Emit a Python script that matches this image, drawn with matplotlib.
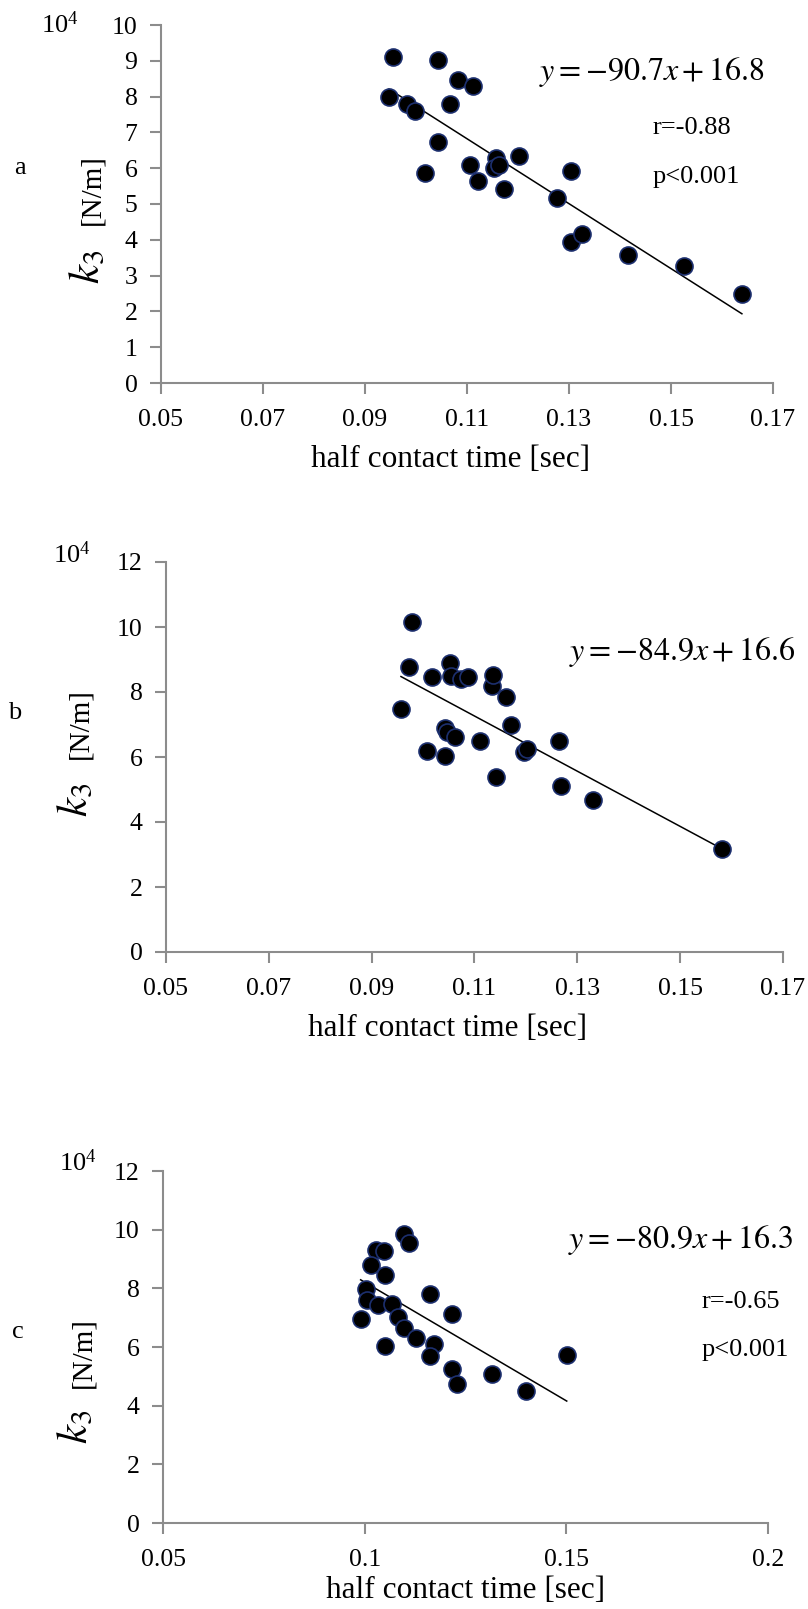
import numpy as np
import matplotlib
matplotlib.use('Agg')
import matplotlib.pyplot as plt

plt.rcParams['font.family'] = ['Liberation Serif', 'DejaVu Serif']
plt.rcParams['mathtext.fontset'] = 'stix'

# panel a
xa = [0.0955, 0.1043, 0.1082, 0.1112, 0.0947, 0.0983, 0.0998, 0.1067, 0.1043, 0.1018,
      0.1106, 0.1122, 0.1157, 0.1153, 0.1163, 0.1173, 0.1202, 0.1276, 0.1304, 0.1304,
      0.1326, 0.1415, 0.1525, 0.1639]
ya = [9.10, 9.02, 8.45, 8.30, 8.00, 7.80, 7.61, 7.80, 6.74, 5.86,
      6.09, 5.65, 6.28, 6.00, 6.10, 5.42, 6.35, 5.18, 5.91, 3.95,
      4.17, 3.58, 3.28, 2.48]
# panel b
xb = [0.0978, 0.0972, 0.0957, 0.1017, 0.1053, 0.1055, 0.1073, 0.1088, 0.1135, 0.1136,
      0.1162, 0.1171, 0.1043, 0.1047, 0.1063, 0.1111, 0.1007, 0.1043, 0.1196, 0.1202,
      0.1141, 0.1264, 0.1269, 0.1330, 0.1582]
yb = [10.16, 8.78, 7.48, 8.45, 8.88, 8.50, 8.40, 8.45, 8.19, 8.53,
      7.84, 6.97, 6.90, 6.78, 6.63, 6.48, 6.20, 6.02, 6.15, 6.26,
      5.39, 6.48, 5.10, 4.69, 3.17]
# panel c
xc = [0.1098, 0.1109, 0.1028, 0.1047, 0.1015, 0.1051, 0.1003, 0.1006, 0.1032, 0.1067,
      0.1162, 0.0990, 0.1083, 0.1098, 0.1217, 0.1128, 0.1051, 0.1171, 0.1162, 0.1217,
      0.1230, 0.1316, 0.1399, 0.1501]
yc = [9.84, 9.55, 9.31, 9.27, 8.79, 8.46, 7.98, 7.59, 7.42, 7.48,
      7.82, 6.94, 7.03, 6.66, 7.11, 6.30, 6.02, 6.10, 5.69, 5.24,
      4.73, 5.07, 4.51, 5.74]

slopes = [-90.7, -84.9, -80.9]
icepts = [16.8, 16.6, 16.3]
letters = ['a', 'b', 'c']
stats = [['r=-0.88', 'p<0.001'], None, ['r=-0.65', 'p<0.001']]

xticks_ab = [0.05, 0.07, 0.09, 0.11, 0.13, 0.15, 0.17]
xticks_c = [0.05, 0.1, 0.15, 0.2]
xlabels_ab = ['0.05', '0.07', '0.09', '0.11', '0.13', '0.15', '0.17']
xlabels_c = ['0.05', '0.1', '0.15', '0.2']

W, H = 808, 1609
fig = plt.figure(figsize=(W / 100, H / 100), dpi=100)

def px_axes(l, r, t, b):
    return fig.add_axes([l / W, 1 - b / H, (r - l) / W, (b - t) / H])

panels = [
    dict(box=(161, 773, 25, 383), x=xa, y=ya, xt=xticks_ab, xl=xlabels_ab, ymax=10, ystep=1,
         letter=(20, 168), e4=(60, 25), eq=(765, 72), st=[(653, 128), (653, 177)],
         k=(-0.118, 0.324), nm=(-0.112, 0.54), xlab=(451, 460)),
    dict(box=(166, 783, 562, 952), x=xb, y=yb, xt=xticks_ab, xl=xlabels_ab, ymax=12, ystep=2,
         letter=(15, 713), e4=(72, 555), eq=(795, 652), st=None,
         k=(-0.145, 0.39), nm=(-0.138, 0.587), xlab=(448, 1028)),
    dict(box=(163, 768, 1171, 1523), x=xc, y=yc, xt=xticks_c, xl=xlabels_c, ymax=12, ystep=2,
         letter=(18, 1332), e4=(78, 1163), eq=(793, 1240), st=[(702, 1302), (702, 1350)],
         k=(-0.142, 0.273), nm=(-0.132, 0.483), xlab=(466, 1590)),
]

gray = '#8c8c8c'
for i, p in enumerate(panels):
    ax = px_axes(*p['box'])
    xs = np.array(p['x'])
    ys = np.array(p['y'])
    ax.scatter(xs, ys, s=150, c='black', edgecolors='#1c2f6e', linewidths=1.2, zorder=3)
    lx = np.array([xs.min(), xs.max()])
    ax.plot(lx, slopes[i] * lx + icepts[i], color='black', lw=1.1, zorder=2)

    ax.set_xlim(p['xt'][0], p['xt'][-1])
    ax.set_ylim(0, p['ymax'])
    ax.set_xticks(p['xt'])
    ax.set_xticklabels(p['xl'])
    ax.set_yticks(np.arange(0, p['ymax'] + 0.1, p['ystep']))
    for s in ['top', 'right']:
        ax.spines[s].set_visible(False)
    for s in ['left', 'bottom']:
        ax.spines[s].set_color(gray)
        ax.spines[s].set_linewidth(1.5)
    ax.tick_params(axis='both', direction='out', length=8, width=1.5, color=gray,
                   labelsize=18.5, pad=9)
    ax.tick_params(axis='x', pad=11)

    ax.text(p['k'][0], p['k'][1], r'$k_3$', transform=ax.transAxes, rotation=90,
            fontsize=31, ha='center', va='center')
    ax.text(p['nm'][0], p['nm'][1], '[N/m]', transform=ax.transAxes, rotation=90,
            fontsize=21, ha='center', va='center')
    fig.text(p['xlab'][0] / W, 1 - p['xlab'][1] / H, 'half contact time [sec]',
             fontsize=22.5, ha='center', va='center')
    fig.text(p['letter'][0] / W, 1 - p['letter'][1] / H, letters[i],
             fontsize=19, ha='center', va='center')
    fig.text(p['e4'][0] / W, 1 - p['e4'][1] / H, r'$\mathregular{10^4}$',
             fontsize=19, ha='center', va='center')
    fig.text(p['eq'][0] / W, 1 - p['eq'][1] / H,
             r'$y = -%.1fx + %.1f$' % (-slopes[i], icepts[i]),
             fontsize=23, ha='right', va='center')
    if stats[i]:
        for (tx, ty), s in zip(p['st'], stats[i]):
            fig.text(tx / W, 1 - ty / H, s, fontsize=19, ha='left', va='center')

fig.savefig('out.png', dpi=100)
